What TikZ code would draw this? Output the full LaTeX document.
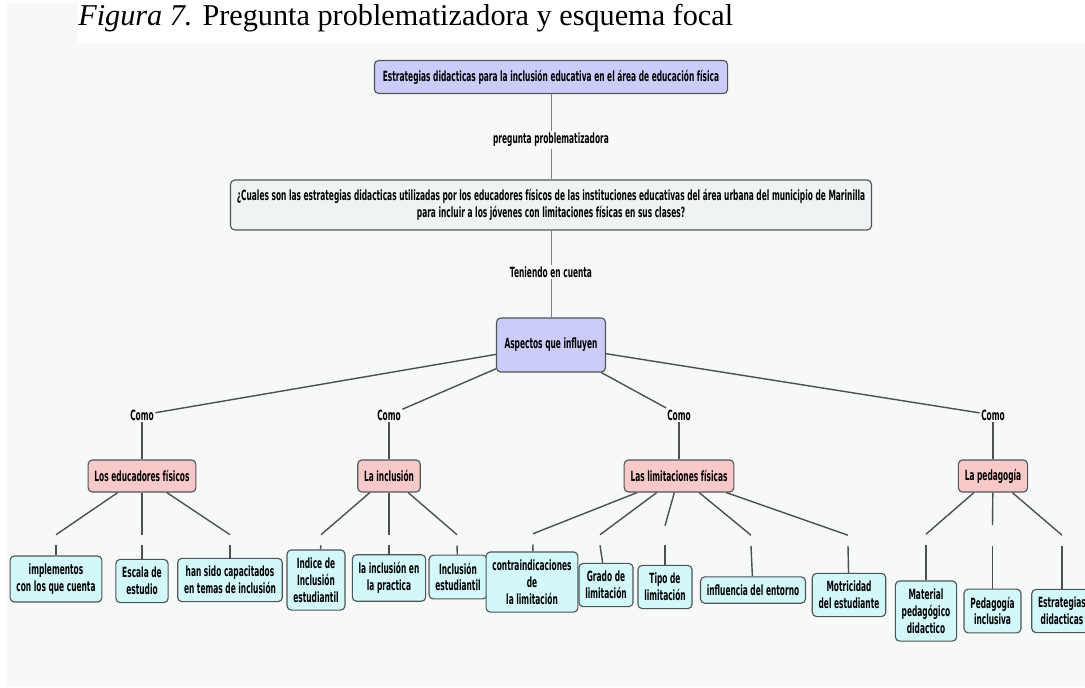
\documentclass[tikz,border=0pt]{standalone}
\usepackage{fontspec}
\setmainfont{Liberation Serif}
\newfontfamily\mapafont[FakeStretch=0.53]{DejaVu Sans}
\definecolor{lila}{HTML}{CCCCFA}
\definecolor{rosa}{HTML}{F7C9C9}
\definecolor{celeste}{HTML}{D2F8FA}
\definecolor{grisazul}{HTML}{EEF3F4}
\definecolor{fondo}{HTML}{F7F9F8}
\definecolor{borde}{HTML}{4F5556}
\tikzset{
  concepto/.style={draw=borde,line width=0.8pt,rounded corners=3pt,align=center,
    font=\mapafont\bfseries\fontsize{10}{12}\selectfont,inner xsep=4.5pt,inner ysep=5.5pt},
  principal/.style={concepto,fill=lila},
  pregunta/.style={concepto,fill=grisazul},
  aspecto/.style={concepto,fill=rosa,minimum height=22.8pt},
  hoja/.style={concepto,fill=celeste},
  frase/.style={inner sep=1pt,font=\mapafont\bfseries\fontsize{10}{12}\selectfont},
  hueco/.style={inner sep=0pt,minimum width=0pt,minimum height=0.25cm},
  enlace/.style={draw=borde!95!black,line width=1pt},
  enlacefino/.style={draw=gray,line width=0.6pt}
}
\begin{document}
\begin{tikzpicture}[x=0.025cm,y=-0.025cm]
\useasboundingbox (0,0) rectangle (1085,687);
\fill[fondo] (7,3) rectangle (1085,687);
\fill[white] (78,0) rectangle (1085,43);
\node[anchor=base west,inner sep=0pt,font=\fontsize{21.5}{25}\selectfont] (titulo) at (78,25) {\textit{Figura 7.} Pregunta problematizadora y esquema focal};

\node[principal,minimum height=23.5pt,inner xsep=6pt] (tema) at (551,77) {Estrategias didacticas para la inclusión educativa en el área de educación física};
\node[frase] (preg) at (551,140) {pregunta problematizadora};
\node[pregunta,minimum height=35.5pt] (problema) at (551,205) {¿Cuales son las estrategias didacticas utilizadas por los educadores físicos de las instituciones educativas del área urbana del municipio de Marinilla\\ para incluir a los jóvenes con limitaciones físicas en sus clases?};
\node[frase] (tener) at (551,272) {Teniendo en cuenta};
\node[principal,minimum width=77.5pt,minimum height=38.4pt] (aspectos) at (551,345) {Aspectos que influyen};
\draw[enlacefino] (tema) -- (preg);
\draw[enlacefino] (preg) -- (problema);
\draw[enlacefino] (problema) -- (tener);
\draw[enlacefino] (tener) -- (aspectos);

\node[frase] (como1) at (142,415) {Como};
\node[frase] (como2) at (389,415) {Como};
\node[frase] (como3) at (679,415) {Como};
\node[frase] (como4) at (993,415) {Como};
\node[aspecto] (educadores) at (142,476) {Los educadores físicos};
\node[aspecto] (inclusion) at (389,476) {La inclusión};
\node[aspecto] (limitaciones) at (679,476) {Las limitaciones físicas};
\node[aspecto] (pedagogia) at (993,476) {La pedagogía};
\foreach \i/\a in {1/educadores,2/inclusion,3/limitaciones,4/pedagogia}{
  \draw[enlace] (aspectos) -- (como\i);
  \draw[enlace] (como\i) -- (\a);
}

\node[hoja] (implementos) at (56,579) {implementos\\ con los que cuenta};
\node[hoja] (escala) at (142,581) {Escala de\\ estudio};
\node[hoja] (capacitados) at (230,580) {han sido capacitados\\ en temas de inclusión};
\node[hoja] (indice) at (316,580) {Indice de\\ Inclusión\\ estudiantil};
\node[hoja] (practica) at (389,578) {la inclusión en\\ la practica};
\node[hoja] (estudiantil) at (458,577) {Inclusión\\ estudiantil};
\node[hoja] (contra) at (532,582) {contraindicaciones\\ de\\ la limitación};
\node[hoja] (grado) at (606,585) {Grado de\\ limitación};
\node[hoja] (tipo) at (665,587) {Tipo de\\ limitación};
\node[hoja] (entorno) at (753,590) {influencia del entorno};
\node[hoja] (motricidad) at (849,595) {Motricidad\\ del estudiante};
\node[hoja] (material) at (926,611) {Material\\ pedagógico\\ didactico};
\node[hoja] (inclusiva) at (992.5,611) {Pedagogía\\ inclusiva};
\node[hoja] (estrategias) at (1062,611) {Estrategias\\ didacticas};

\node[hueco] (h1) at (56,540) {};
\node[hueco] (h2) at (142,540) {};
\node[hueco] (h3) at (230,540) {};
\node[hueco] (h4) at (321,540) {};
\node[hueco] (h5) at (389,540) {};
\node[hueco] (h6) at (457,540) {};
\node[hueco] (h7) at (533,539) {};
\node[hueco] (h8) at (600,540) {};
\node[hueco,minimum height=0.48cm] (h9) at (665,535.5) {};
\node[hueco] (h10) at (751,540.5) {};
\node[hueco] (h11) at (848,540.5) {};
\node[hueco] (h12) at (926,539.5) {};
\node[hueco,minimum height=0.5cm] (h13) at (992.5,535.5) {};
\node[hueco] (h14) at (1062,540.5) {};
\foreach \p/\h/\c in {educadores/h1/implementos,educadores/h2/escala,educadores/h3/capacitados,
  inclusion/h4/indice,inclusion/h5/practica,inclusion/h6/estudiantil,
  limitaciones/h7/contra,limitaciones/h8/grado,limitaciones/h9/tipo,limitaciones/h10/entorno,limitaciones/h11/motricidad,
  pedagogia/h12/material,pedagogia/h13/inclusiva,pedagogia/h14/estrategias}{
  \draw[enlace] (\p) -- (\h.north);
  \draw[enlace] (\h.south) -- (\c);
}
\end{tikzpicture}
\end{document}
